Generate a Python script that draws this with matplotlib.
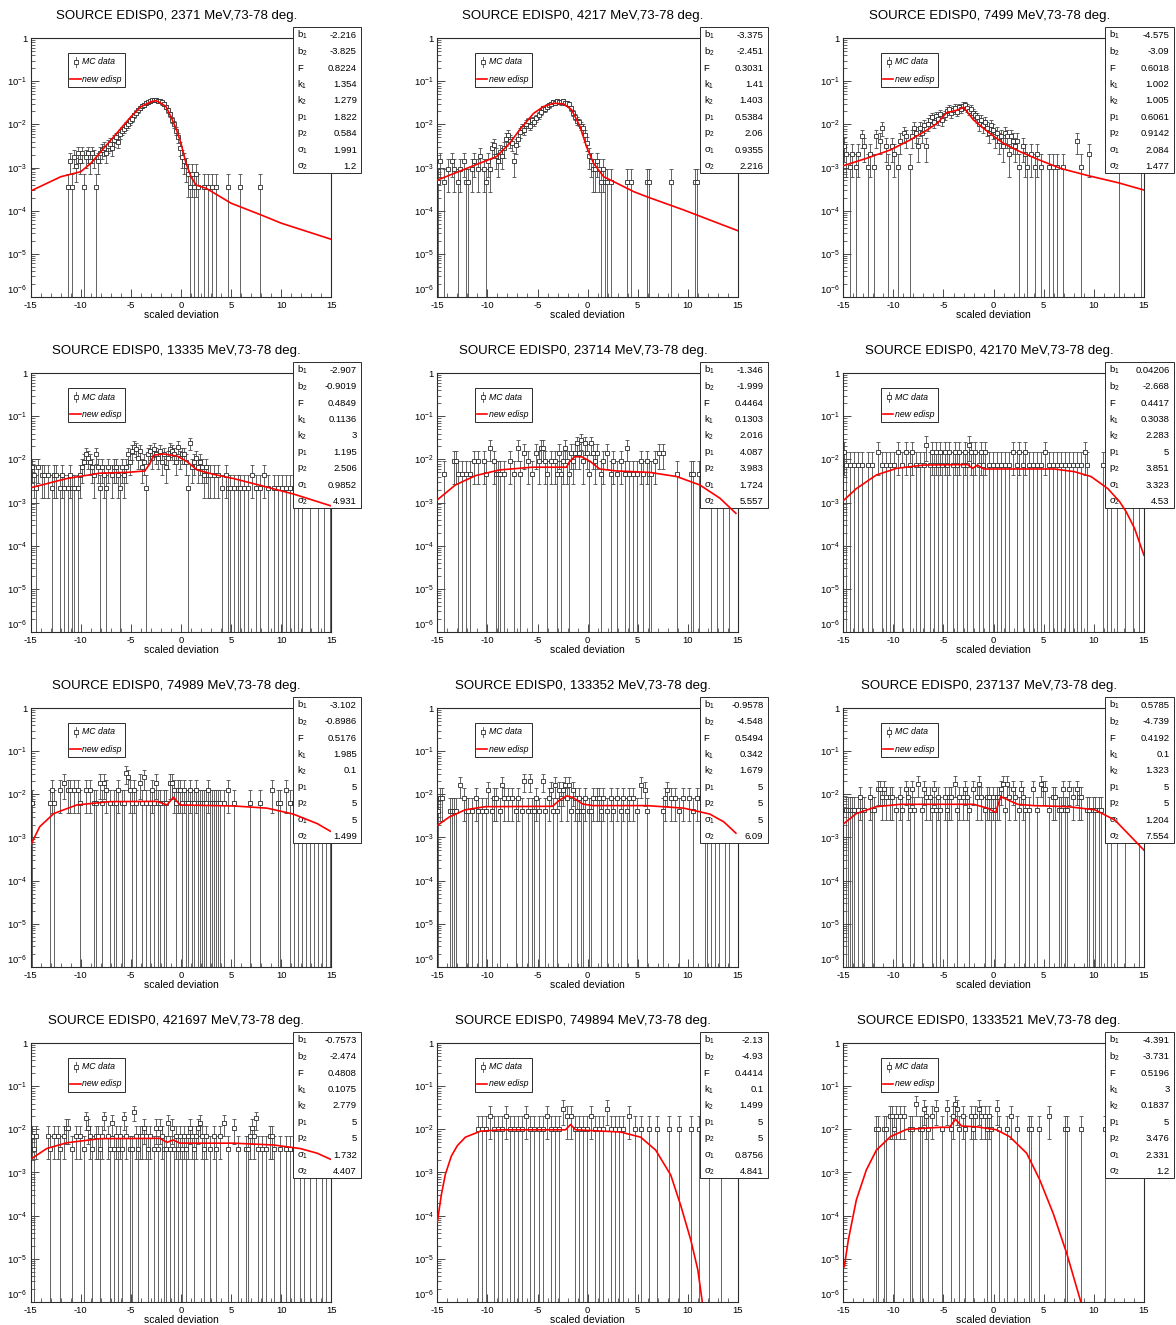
import numpy as np
import matplotlib
matplotlib.use("Agg")
import matplotlib.pyplot as plt
from matplotlib.patches import Rectangle
from matplotlib.ticker import FixedLocator, LogLocator, MultipleLocator, NullFormatter

plt.rcParams["font.family"] = ["Liberation Sans", "DejaVu Sans"]
plt.rcParams["mathtext.fontset"] = "custom"
plt.rcParams["mathtext.rm"] = "Liberation Sans"
plt.rcParams["mathtext.it"] = "Liberation Sans:italic"
plt.rcParams["axes.unicode_minus"] = False

# energies (MeV) of the 12 bins and the height of a single MC count in each
energies = [2371, 4217, 7499, 13335, 23714, 42170, 74989, 133352, 237137, 421697, 749894, 1333521]
units = [3.6e-4, 4.7e-4, 1.05e-3, 2.2e-3, 4.7e-3, 7.4e-3, 6.2e-3, 4.2e-3, 4.4e-3, 3.6e-3, 1.0e-2, 1.0e-2]

# MC data: (bin centre, counts)
p1_pts = [(-11.3, 1), (-11.1, 4), (-10.9, 1), (-10.7, 5), (-10.5, 3), (-10.3, 6), (-10.1, 4), (-9.9, 6),
          (-9.7, 1), (-9.5, 5), (-9.3, 6), (-9.1, 4), (-8.9, 6), (-8.7, 5), (-8.5, 1), (-8.3, 4), (-8.1, 6),
          (-7.9, 7), (-7.7, 8), (-7.5, 6), (-7.3, 9), (-7.1, 10), (-6.9, 8), (-6.7, 12), (-6.5, 14), (-6.3, 11),
          (-6.1, 17), (-5.9, 20), (-5.7, 22), (-5.5, 26), (-5.3, 28), (-5.1, 33), (-4.9, 38), (-4.7, 45),
          (-4.5, 52), (-4.3, 60), (-4.1, 68), (-3.9, 75), (-3.7, 80), (-3.5, 88), (-3.3, 92), (-3.1, 95),
          (-2.9, 100), (-2.7, 105), (-2.5, 102), (-2.3, 98), (-2.1, 96), (-1.9, 90), (-1.7, 82), (-1.5, 72),
          (-1.3, 60), (-1.1, 48), (-0.9, 36), (-0.7, 28), (-0.5, 20), (-0.3, 14), (-0.1, 8), (0.1, 5),
          (0.3, 4), (0.5, 3), (0.7, 2), (0.9, 1), (1.1, 2), (1.3, 1), (1.5, 2), (1.7, 1), (2.3, 1), (2.7, 1),
          (3.1, 1), (3.5, 1), (4.7, 1), (5.9, 1), (7.9, 1)]
p2_pts = [(-14.9, 1), (-14.7, 3), (-14.3, 1), (-13.9, 2), (-13.5, 3), (-13.3, 2), (-12.9, 1), (-12.7, 2),
          (-12.3, 3), (-12.1, 1), (-11.9, 1), (-11.5, 2), (-11.3, 3), (-10.9, 2), (-10.7, 4), (-10.3, 2),
          (-10.1, 1), (-9.9, 3), (-9.7, 2), (-9.5, 6), (-9.3, 7), (-9.1, 4), (-8.9, 3), (-8.7, 5), (-8.5, 4),
          (-8.3, 6), (-8.1, 10), (-7.9, 12), (-7.7, 9), (-7.5, 8), (-7.3, 3), (-7.1, 7), (-6.9, 10),
          (-6.7, 14), (-6.5, 18), (-6.3, 16), (-6.1, 22), (-5.9, 25), (-5.7, 20), (-5.5, 27), (-5.3, 24),
          (-5.1, 30), (-4.9, 35), (-4.7, 42), (-4.5, 50), (-4.3, 48), (-4.1, 55), (-3.9, 60), (-3.7, 64),
          (-3.5, 70), (-3.3, 68), (-3.1, 74), (-2.9, 72), (-2.7, 70), (-2.5, 74), (-2.3, 68), (-2.1, 66),
          (-1.9, 62), (-1.7, 50), (-1.5, 40), (-1.3, 32), (-1.1, 26), (-0.9, 24), (-0.7, 20), (-0.5, 18),
          (-0.3, 12), (-0.1, 8), (0.1, 4), (0.3, 3), (0.5, 2), (0.7, 2), (0.9, 3), (1.1, 2), (1.3, 1),
          (1.5, 2), (1.7, 1), (1.9, 1), (2.3, 1), (3.9, 1), (4.3, 1), (5.9, 1), (6.1, 1), (8.3, 1),
          (10.7, 1), (10.9, 1)]
p3_pts = [(-14.9, 3), (-14.7, 2), (-14.3, 1), (-14.1, 2), (-13.7, 1), (-13.5, 2), (-13.1, 5), (-12.9, 3),
          (-12.5, 1), (-12.3, 2), (-11.9, 1), (-11.7, 5), (-11.3, 4), (-11.1, 8), (-10.7, 3), (-10.5, 1),
          (-10.1, 3), (-9.9, 2), (-9.5, 1), (-9.3, 4), (-8.9, 6), (-8.7, 5), (-8.3, 1), (-8.1, 5), (-7.9, 8),
          (-7.7, 6), (-7.5, 3), (-7.3, 8), (-7.1, 6), (-6.9, 9), (-6.7, 3), (-6.5, 10), (-6.3, 12),
          (-6.1, 14), (-5.9, 11), (-5.7, 15), (-5.5, 13), (-5.3, 17), (-5.1, 12), (-4.9, 16), (-4.7, 20),
          (-4.5, 22), (-4.3, 18), (-4.1, 21), (-3.9, 23), (-3.7, 19), (-3.5, 24), (-3.3, 22), (-3.1, 26),
          (-2.9, 27), (-2.7, 23), (-2.5, 20), (-2.3, 22), (-2.1, 18), (-1.9, 16), (-1.7, 14), (-1.5, 10),
          (-1.3, 12), (-1.1, 9), (-0.9, 11), (-0.7, 8), (-0.5, 6), (-0.3, 9), (-0.1, 7), (0.1, 5), (0.3, 6),
          (0.5, 4), (0.7, 5), (0.9, 3), (1.1, 6), (1.3, 5), (1.5, 2), (1.7, 5), (1.9, 4), (2.1, 3), (2.3, 4),
          (2.5, 1), (2.9, 3), (3.1, 2), (3.3, 1), (3.7, 2), (4.1, 1), (4.3, 2), (4.7, 1), (5.5, 1), (5.9, 1),
          (6.3, 1), (6.9, 1), (8.3, 4), (8.7, 1), (9.5, 2), (12.5, 1), (14.7, 1)]
p4_pts = [(-14.9, 3), (-14.7, 2), (-14.5, 1), (-14.3, 3), (-13.9, 2), (-13.7, 2), (-13.3, 2), (-12.9, 1),
          (-12.7, 2), (-12.5, 2), (-12.1, 1), (-11.9, 2), (-11.7, 1), (-11.3, 1), (-11.1, 2), (-10.9, 1),
          (-10.7, 1), (-10.3, 1), (-10.1, 2), (-9.9, 3), (-9.7, 4), (-9.5, 6), (-9.3, 5), (-9.1, 4),
          (-8.9, 3), (-8.7, 2), (-8.5, 6), (-8.3, 3), (-8.1, 1), (-7.9, 3), (-7.7, 2), (-7.5, 1), (-7.3, 3),
          (-6.9, 2), (-6.7, 3), (-6.5, 3), (-6.3, 2), (-6.1, 1), (-5.9, 3), (-5.7, 2), (-5.5, 3), (-5.3, 6),
          (-5.1, 4), (-4.9, 7), (-4.7, 9), (-4.5, 8), (-4.3, 5), (-4.1, 7), (-3.9, 3), (-3.7, 4), (-3.5, 1),
          (-3.3, 6), (-3.1, 7), (-2.9, 5), (-2.7, 8), (-2.5, 6), (-2.3, 5), (-2.1, 7), (-1.9, 4), (-1.7, 6),
          (-1.5, 3), (-1.3, 5), (-1.1, 8), (-0.9, 7), (-0.7, 6), (-0.5, 4), (-0.3, 9), (-0.1, 5), (0.1, 6),
          (0.3, 6), (0.5, 4), (0.7, 1), (0.9, 11), (1.1, 3), (1.3, 4), (1.5, 5), (1.7, 3), (1.9, 4), (2.1, 3),
          (2.3, 2), (2.5, 3), (2.7, 2), (2.9, 2), (3.3, 2), (3.7, 2), (4.1, 1), (4.5, 2), (4.7, 1), (4.9, 1),
          (5.3, 1), (5.7, 1), (5.9, 1), (6.3, 1), (6.7, 1), (7.1, 2), (7.5, 1), (7.9, 1), (8.3, 2), (8.7, 1),
          (9.3, 1), (9.7, 1), (10.1, 1), (10.5, 1), (10.9, 1), (11.3, 1), (11.7, 1), (12.1, 1), (12.9, 1),
          (13.7, 1), (14.3, 1), (14.9, 1)]
p5_pts = [(-14.3, 1), (-13.3, 2), (-13.1, 2), (-12.9, 1), (-12.5, 1), (-12.1, 1), (-11.7, 1), (-11.3, 2),
          (-10.9, 2), (-10.3, 2), (-10.1, 1), (-9.7, 4), (-9.3, 2), (-9.1, 1), (-8.9, 1), (-8.7, 1),
          (-8.3, 1), (-7.7, 2), (-7.3, 1), (-6.9, 4), (-6.7, 1), (-6.3, 3), (-5.9, 2), (-5.5, 1), (-5.1, 3),
          (-4.9, 2), (-4.7, 4), (-4.5, 4), (-4.3, 2), (-4.1, 1), (-3.7, 2), (-3.3, 2), (-3.1, 1), (-2.9, 3),
          (-2.7, 1), (-2.5, 2), (-2.3, 4), (-2.1, 2), (-1.9, 1), (-1.7, 3), (-1.5, 2), (-1.3, 3), (-1.1, 5),
          (-0.9, 3), (-0.7, 6), (-0.5, 2), (-0.3, 5), (-0.1, 3), (0.1, 1), (0.3, 5), (0.5, 3), (0.7, 2),
          (0.9, 3), (1.3, 1), (1.5, 2), (1.9, 3), (2.3, 1), (2.5, 2), (2.9, 1), (3.3, 2), (3.7, 1), (3.9, 4),
          (4.1, 1), (4.5, 1), (4.9, 1), (5.3, 2), (5.5, 1), (5.9, 2), (6.1, 1), (6.3, 1), (6.7, 2), (7.1, 3),
          (7.5, 3), (8.9, 1), (10.3, 1), (10.5, 1), (11.1, 1), (11.5, 2), (12.3, 1), (12.9, 1), (13.5, 1),
          (14.1, 1)]
p6_pts = [(-14.9, 2), (-14.7, 1), (-14.3, 1), (-13.9, 1), (-13.5, 1), (-13.1, 1), (-12.5, 1), (-12.1, 1),
          (-11.5, 2), (-11.1, 1), (-10.7, 1), (-10.3, 1), (-9.9, 1), (-9.5, 2), (-9.1, 1), (-8.7, 2),
          (-8.3, 1), (-8.1, 2), (-7.7, 1), (-7.3, 1), (-6.9, 1), (-6.7, 3), (-6.3, 1), (-6.1, 2), (-5.9, 1),
          (-5.7, 2), (-5.5, 1), (-5.3, 2), (-5.1, 1), (-4.9, 2), (-4.7, 1), (-4.5, 2), (-4.1, 1), (-3.9, 2),
          (-3.7, 1), (-3.5, 2), (-3.1, 1), (-2.9, 2), (-2.7, 1), (-2.5, 3), (-2.3, 2), (-2.1, 1), (-1.9, 2),
          (-1.5, 1), (-1.3, 2), (-1.1, 1), (-0.9, 2), (-0.5, 1), (-0.1, 1), (0.3, 1), (0.7, 1), (1.1, 1),
          (1.5, 1), (1.9, 2), (2.3, 1), (2.5, 2), (2.9, 1), (3.1, 2), (3.5, 1), (3.9, 1), (4.3, 1), (4.7, 1),
          (5.1, 2), (5.5, 1), (5.9, 1), (6.3, 1), (6.7, 1), (7.1, 1), (7.5, 1), (7.9, 1), (8.3, 1), (8.7, 1),
          (9.1, 2), (9.3, 1), (10.9, 1), (11.3, 1), (11.7, 1), (12.3, 1), (13.1, 1), (13.9, 1), (14.5, 1)]
p7_pts = [(-14.9, 1), (-13.1, 1), (-12.9, 2), (-12.7, 1), (-12.1, 2), (-11.7, 3), (-11.3, 2), (-11.1, 2),
          (-10.7, 2), (-10.3, 2), (-10.1, 1), (-9.5, 2), (-9.1, 2), (-8.7, 1), (-8.5, 1), (-8.1, 3),
          (-7.9, 1), (-7.7, 3), (-7.5, 2), (-7.1, 1), (-6.7, 1), (-6.5, 1), (-6.3, 2), (-5.9, 1), (-5.7, 1),
          (-5.5, 5), (-5.3, 4), (-5.1, 2), (-4.9, 1), (-4.7, 2), (-4.5, 1), (-4.1, 3), (-3.9, 1), (-3.7, 4),
          (-3.5, 1), (-3.1, 1), (-2.9, 2), (-2.7, 1), (-2.5, 3), (-2.3, 1), (-2.1, 1), (-1.7, 1), (-1.5, 1),
          (-1.1, 3), (-0.9, 3), (-0.7, 2), (-0.5, 1), (-0.3, 2), (-0.1, 2), (0.1, 1), (0.3, 2), (0.5, 1),
          (0.7, 1), (0.9, 2), (1.1, 1), (1.3, 1), (1.5, 2), (1.7, 1), (1.9, 1), (2.1, 1), (2.3, 1), (2.5, 1),
          (2.7, 2), (2.9, 1), (3.1, 1), (3.3, 1), (3.5, 1), (3.7, 1), (3.9, 1), (4.3, 1), (4.7, 2), (5.3, 1),
          (6.9, 1), (7.9, 1), (9.1, 2), (9.7, 1), (9.9, 1), (10.5, 2), (10.9, 1), (11.3, 1), (11.7, 1),
          (12.1, 1), (12.5, 1), (12.9, 1), (13.3, 1), (13.7, 1), (14.1, 1), (14.5, 1), (14.9, 1)]
p8_pts = [(-14.9, 1), (-14.7, 2), (-14.5, 2), (-13.7, 1), (-13.5, 1), (-13.3, 1), (-13.1, 1), (-12.7, 4),
          (-12.3, 2), (-12.1, 1), (-11.9, 1), (-11.5, 1), (-11.1, 2), (-10.9, 1), (-10.5, 1), (-10.1, 1),
          (-9.9, 3), (-9.5, 1), (-9.3, 2), (-9.1, 2), (-8.7, 1), (-8.5, 4), (-8.3, 2), (-7.9, 2), (-7.5, 2),
          (-7.1, 1), (-6.9, 2), (-6.5, 1), (-6.3, 5), (-5.9, 1), (-5.7, 5), (-5.5, 1), (-5.3, 1), (-5.1, 2),
          (-4.9, 1), (-4.5, 5), (-4.3, 1), (-3.9, 2), (-3.7, 3), (-3.5, 1), (-3.3, 4), (-3.1, 1), (-2.9, 3),
          (-2.7, 2), (-2.5, 3), (-2.3, 4), (-2.1, 2), (-1.9, 4), (-1.7, 1), (-1.5, 3), (-1.3, 2), (-1.1, 1),
          (-0.9, 2), (-0.7, 1), (-0.5, 1), (-0.3, 2), (0.1, 1), (0.3, 1), (0.5, 2), (0.9, 2), (1.1, 2),
          (1.3, 1), (1.5, 2), (1.9, 1), (2.3, 2), (2.5, 1), (2.9, 2), (3.3, 1), (3.5, 2), (3.9, 1), (4.1, 2),
          (4.5, 2), (4.9, 1), (5.3, 4), (5.7, 3), (5.9, 1), (7.5, 1), (7.7, 2), (7.9, 3), (8.3, 2), (8.7, 2),
          (9.1, 1), (9.5, 2), (10.1, 2), (10.5, 1), (10.9, 2), (11.3, 2), (11.7, 1), (11.9, 1), (12.3, 1),
          (12.7, 1), (13.1, 1), (13.7, 1), (14.1, 1)]
p9_pts = [(-14.7, 1), (-14.5, 1), (-14.3, 1), (-14.1, 1), (-13.9, 1), (-13.5, 1), (-13.3, 2), (-13.1, 1),
          (-12.9, 1), (-12.3, 2), (-12.1, 1), (-11.9, 1), (-11.5, 3), (-11.3, 3), (-11.1, 2), (-10.9, 3),
          (-10.7, 2), (-10.3, 2), (-10.1, 2), (-9.7, 1), (-9.3, 2), (-9.1, 1), (-8.7, 3), (-8.5, 2),
          (-8.3, 1), (-8.1, 3), (-7.9, 1), (-7.5, 4), (-7.1, 1), (-6.9, 3), (-6.7, 2), (-6.3, 2), (-6.1, 1),
          (-5.9, 3), (-5.7, 1), (-5.5, 2), (-5.3, 1), (-4.9, 2), (-4.7, 1), (-4.5, 2), (-4.3, 2), (-3.9, 4),
          (-3.7, 1), (-3.5, 2), (-3.1, 2), (-2.9, 3), (-2.7, 2), (-2.5, 1), (-2.1, 3), (-1.7, 2), (-1.5, 4),
          (-1.3, 2), (-0.9, 1), (-0.7, 2), (-0.5, 2), (-0.3, 1), (-0.1, 2), (0.1, 1), (0.3, 2), (0.5, 2),
          (0.7, 3), (0.9, 4), (1.1, 1), (1.3, 4), (1.5, 2), (1.9, 3), (2.1, 2), (2.5, 1), (2.7, 3), (2.9, 2),
          (3.1, 1), (3.5, 1), (3.9, 3), (4.3, 1), (4.7, 4), (4.9, 3), (5.1, 3), (5.5, 1), (5.9, 2), (6.1, 2),
          (6.5, 1), (6.7, 1), (6.9, 3), (7.1, 1), (7.3, 1), (7.5, 3), (7.9, 2), (8.3, 3), (8.5, 2), (8.7, 2),
          (9.3, 1), (9.5, 1), (9.9, 1), (10.1, 1), (10.5, 1), (10.7, 1), (11.3, 1), (11.7, 1), (12.3, 1),
          (13.1, 1), (14.5, 1)]
p10_pts = [(-14.9, 2), (-14.7, 1), (-14.5, 2), (-13.3, 2), (-13.1, 1), (-12.7, 2), (-12.3, 2), (-12.1, 1),
           (-11.7, 2), (-11.5, 3), (-11.3, 3), (-10.9, 1), (-10.5, 2), (-10.1, 2), (-9.7, 1), (-9.5, 5),
           (-9.3, 3), (-9.1, 2), (-8.9, 1), (-8.5, 2), (-8.3, 2), (-8.1, 1), (-7.9, 2), (-7.7, 5), (-7.3, 2),
           (-7.1, 1), (-6.9, 4), (-6.7, 1), (-6.5, 2), (-6.3, 1), (-6.1, 2), (-5.9, 1), (-5.7, 5), (-5.5, 2),
           (-5.1, 1), (-4.9, 1), (-4.7, 7), (-4.5, 2), (-4.3, 1), (-4.1, 2), (-3.9, 2), (-3.7, 3), (-3.5, 2),
           (-3.3, 1), (-3.1, 2), (-2.7, 1), (-2.5, 3), (-2.3, 1), (-2.1, 3), (-1.9, 2), (-1.7, 1), (-1.5, 1),
           (-1.3, 4), (-1.1, 1), (-0.9, 3), (-0.7, 1), (-0.5, 2), (-0.3, 1), (-0.1, 2), (0.1, 1), (0.3, 2),
           (0.5, 1), (0.7, 2), (0.9, 3), (1.1, 2), (1.3, 1), (1.5, 2), (1.7, 3), (1.9, 4), (2.1, 2), (2.3, 1),
           (2.5, 2), (2.9, 1), (3.3, 2), (3.5, 1), (3.9, 2), (4.3, 4), (4.7, 1), (5.3, 3), (5.7, 1), (6.5, 1),
           (6.7, 1), (6.9, 2), (7.1, 3), (7.3, 2), (7.5, 5), (7.7, 1), (8.1, 1), (8.5, 1), (8.9, 2), (9.1, 2),
           (9.3, 1), (9.9, 1), (10.5, 1), (10.9, 1), (11.3, 1), (11.9, 1), (12.3, 1), (12.9, 1), (13.5, 1),
           (14.1, 1), (14.5, 1)]
p11_pts = [(-10.9, 1), (-10.5, 1), (-10.1, 1), (-9.7, 2), (-9.3, 1), (-8.9, 1), (-8.5, 1), (-8.1, 2),
           (-7.7, 1), (-7.3, 1), (-6.9, 1), (-6.5, 1), (-6.1, 2), (-5.7, 1), (-5.3, 1), (-4.9, 1), (-4.5, 1),
           (-4.1, 2), (-3.7, 1), (-3.3, 1), (-2.9, 1), (-2.5, 3), (-2.1, 2), (-1.7, 2), (-1.3, 1), (-0.9, 1),
           (-0.5, 1), (-0.1, 1), (0.3, 2), (0.7, 1), (1.1, 1), (1.5, 1), (1.9, 3), (2.3, 1), (2.7, 1),
           (3.1, 1), (3.5, 1), (4.1, 2), (4.7, 1), (5.3, 1), (6.1, 1), (6.9, 1), (8.1, 1), (9.1, 1),
           (10.3, 1), (11.1, 1), (12.1, 1), (13.3, 1)]
p12_pts = [(-11.7, 1), (-11.5, 1), (-10.9, 1), (-10.7, 1), (-10.3, 2), (-10.1, 2), (-9.9, 1), (-9.7, 2),
           (-9.3, 2), (-8.9, 2), (-8.3, 1), (-8.1, 1), (-7.7, 4), (-7.3, 1), (-7.1, 1), (-6.9, 3), (-6.7, 2),
           (-6.5, 1), (-6.1, 2), (-5.7, 3), (-5.1, 1), (-4.7, 3), (-4.3, 1), (-4.1, 2), (-3.9, 4), (-3.7, 3),
           (-3.5, 1), (-3.1, 2), (-2.9, 1), (-2.3, 2), (-2.1, 1), (-1.9, 2), (-1.5, 3), (-1.3, 2), (-0.9, 2),
           (-0.7, 1), (-0.5, 2), (-0.3, 1), (0.3, 3), (0.5, 1), (1.3, 1), (1.7, 2), (2.3, 1), (3.5, 1),
           (3.7, 1), (4.5, 1), (5.5, 2), (7.1, 1), (7.3, 1), (8.7, 1), (11.1, 1)]

# "new edisp" fit curves as (x, y)
p1_fit = [(-15, 2.85e-4), (-12, 6.1e-4), (-10, 8.0e-4), (-9, 1.25e-3), (-8, 2.33e-3), (-7, 4.35e-3),
          (-6, 8.1e-3), (-5, 1.51e-2), (-4, 2.58e-2), (-3, 3.37e-2), (-2.5, 3.56e-2), (-2, 3.1e-2),
          (-1.5, 2.6e-2), (-1, 1.5e-2), (-0.5, 8.1e-3), (0, 3.65e-3), (0.5, 1.25e-3), (1, 6.1e-4),
          (1.5, 3.9e-4), (2.5, 3.3e-4), (5, 1.48e-4), (8, 7.9e-5), (10, 5.1e-5), (15, 2.15e-5)]
p2_fit = [(-15, 5.1e-4), (-10.8, 1.25e-3), (-9.1, 1.78e-3), (-7.8, 3.6e-3), (-6.8, 7.4e-3), (-5.4, 1.8e-2),
          (-4.4, 2.6e-2), (-3.4, 3.1e-2), (-2.4, 3.0e-2), (-1.6, 2.2e-2), (-0.75, 8.9e-3), (-0.1, 3.0e-3),
          (0.6, 1.25e-3), (1.6, 6.1e-4), (2.6, 4.7e-4), (4.6, 2.75e-4), (5.9, 2.1e-4), (9.6, 1.03e-4),
          (15, 3.4e-5)]
p3_fit = [(-15, 1.1e-3), (-12.7, 1.63e-3), (-10.3, 2.56e-3), (-8.3, 4.4e-3), (-6.65, 7.4e-3),
          (-5.6, 1.07e-2), (-4.7, 1.87e-2), (-3.6, 2.16e-2), (-3.0, 2.5e-2), (-2.0, 1.27e-2),
          (-0.6, 6.8e-3), (1.0, 3.6e-3), (2.7, 2.3e-3), (4.4, 1.55e-3), (6.7, 9.5e-4), (9.4, 6.5e-4),
          (12.4, 4.45e-4), (15, 3.0e-4)]
p4_fit = [(-15, 2.2e-3), (-11.4, 3.6e-3), (-8.1, 4.8e-3), (-5.4, 5.0e-3), (-3.6, 5.4e-3), (-3.1, 8.1e-3),
          (-2.7, 1.26e-2), (-1.75, 1.34e-2), (-0.4, 1.2e-2), (0.6, 8.9e-3), (1.6, 5.7e-3), (3.25, 4.5e-3),
          (5.25, 3.6e-3), (7.9, 2.5e-3), (11.2, 1.58e-3), (15, 8.3e-4)]
p5_fit = [(-15, 1.15e-3), (-13.2, 2.55e-3), (-11.2, 4.2e-3), (-8.8, 5.7e-3), (-5.5, 6.6e-3), (-2.1, 6.6e-3),
          (-1.8, 8.9e-3), (-1.3, 1.15e-2), (-0.6, 1.15e-2), (0.2, 9.2e-3), (1.2, 6.0e-3), (2.9, 5.4e-3),
          (6.2, 5.0e-3), (8.9, 4.0e-3), (11.2, 2.55e-3), (13.2, 1.26e-3), (14.8, 5.6e-4)]
p6_fit = [(-15, 1.1e-3), (-13.7, 2.1e-3), (-11.7, 4.35e-3), (-9.7, 6.2e-3), (-7.0, 7.4e-3), (-2.6, 7.6e-3),
          (-2.1, 6.2e-3), (-1.6, 7.4e-3), (-1.0, 6.0e-3), (6.05, 6.0e-3), (8.06, 5.2e-3), (9.73, 4.0e-3),
          (11.4, 2.1e-3), (12.57, 1.05e-3), (13.23, 6.1e-4), (14.07, 2.5e-4), (15, 6.0e-5)]
p7_fit = [(-15, 6.7e-4), (-14.1, 1.78e-3), (-12.7, 3.6e-3), (-10.4, 5.7e-3), (-7.1, 6.8e-3), (-2.4, 6.9e-3),
          (-1.4, 5.7e-3), (-0.75, 8.6e-3), (-0.1, 5.7e-3), (5.25, 5.4e-3), (8.6, 4.8e-3), (11.2, 3.5e-3),
          (13.6, 2.1e-3), (14.9, 1.4e-3)]
p8_fit = [(-15, 1.9e-3), (-13.8, 3.0e-3), (-12.2, 4.4e-3), (-10.2, 5.2e-3), (-3.5, 5.3e-3), (-2.8, 7.4e-3),
          (-2.1, 9.2e-3), (-1.5, 8.6e-3), (-0.5, 6.0e-3), (0.5, 5.5e-3), (5.9, 5.5e-3), (9.6, 4.8e-3),
          (12.2, 3.5e-3), (13.6, 2.3e-3), (14.8, 1.26e-3)]
p9_fit = [(-15, 2.06e-3), (-13.7, 3.6e-3), (-11.7, 5.2e-3), (-9.3, 5.9e-3), (-2.0, 5.9e-3), (-0.6, 4.8e-3),
          (0.2, 3.8e-3), (0.7, 8.9e-3), (2.4, 5.9e-3), (4.0, 5.5e-3), (7.4, 5.2e-3), (10.1, 4.4e-3),
          (12.1, 2.55e-3), (13.7, 1.05e-3), (15, 5.1e-4)]
p10_fit = [(-15, 2.04e-3), (-13.4, 3.6e-3), (-11.4, 4.9e-3), (-8.1, 6.1e-3), (-2.1, 6.2e-3), (-1.4, 5.0e-3),
           (-0.8, 5.7e-3), (-0.1, 4.8e-3), (5.25, 4.8e-3), (9.25, 4.35e-3), (11.9, 3.6e-3), (13.6, 2.8e-3),
           (14.9, 2.04e-3)]
p11_fit = [(-15, 7.0e-5), (-14.6, 3.0e-4), (-14.2, 9.0e-4), (-13.6, 2.4e-3), (-13.0, 4.2e-3), (-12.2, 6.6e-3),
           (-10.7, 9.1e-3), (-8.7, 9.8e-3), (-2.2, 9.8e-3), (-1.7, 1.3e-2), (-1.2, 9.8e-3), (3.3, 8.7e-3),
           (5.3, 6.6e-3), (6.8, 3.3e-3), (8.3, 8.7e-4), (9.3, 1.7e-4), (10.3, 2.7e-5), (11.0, 5.5e-6),
           (11.5, 8.0e-7)]
p12_fit = [(-14.9, 6.5e-6), (-14.5, 2.7e-5), (-13.7, 2.3e-4), (-12.7, 1.15e-3), (-11.7, 3.3e-3),
           (-10.3, 6.8e-3), (-8.7, 1.0e-2), (-5.4, 1.12e-2), (-4.4, 1.12e-2), (-3.8, 1.72e-2), (-3.2, 1.2e-2),
           (-1.7, 1.15e-2), (0.3, 9.8e-3), (1.6, 6.8e-3), (3.3, 2.8e-3), (4.6, 6.8e-4), (5.95, 1.12e-4),
           (7.3, 1.32e-5), (8.7, 1.0e-6), (8.9, 7.0e-7)]

# fit parameters shown in the stat boxes
par_names = ["b$_1$", "b$_2$", "F", "k$_1$", "k$_2$", "p$_1$", "p$_2$", "σ$_1$", "σ$_2$"]
p1_par = [-2.216, -3.825, 0.8224, 1.354, 1.279, 1.822, 0.584, 1.991, 1.2]
p2_par = [-3.375, -2.451, 0.3031, 1.41, 1.403, 0.5384, 2.06, 0.9355, 2.216]
p3_par = [-4.575, -3.09, 0.6018, 1.002, 1.005, 0.6061, 0.9142, 2.084, 1.477]
p4_par = [-2.907, -0.9019, 0.4849, 0.1136, 3, 1.195, 2.506, 0.9852, 4.931]
p5_par = [-1.346, -1.999, 0.4464, 0.1303, 2.016, 4.087, 3.983, 1.724, 5.557]
p6_par = [0.04206, -2.668, 0.4417, 0.3038, 2.283, 5, 3.851, 3.323, 4.53]
p7_par = [-3.102, -0.8986, 0.5176, 1.985, 0.1, 5, 5, 5, 1.499]
p8_par = [-0.9578, -4.548, 0.5494, 0.342, 1.679, 5, 5, 5, 6.09]
p9_par = [0.5785, -4.739, 0.4192, 0.1, 1.323, 5, 5, 1.204, 7.554]
p10_par = [-0.7573, -2.474, 0.4808, 0.1075, 2.779, 5, 5, 1.732, 4.407]
p11_par = [-2.13, -4.93, 0.4414, 0.1, 1.499, 5, 5, 0.8756, 4.841]
p12_par = [-4.391, -3.731, 0.5196, 3, 0.1837, 5, 3.476, 2.331, 1.2]

pts_all = [p1_pts, p2_pts, p3_pts, p4_pts, p5_pts, p6_pts, p7_pts, p8_pts, p9_pts, p10_pts, p11_pts, p12_pts]
fit_all = [p1_fit, p2_fit, p3_fit, p4_fit, p5_fit, p6_fit, p7_fit, p8_fit, p9_fit, p10_fit, p11_fit, p12_fit]
par_all = [p1_par, p2_par, p3_par, p4_par, p5_par, p6_par, p7_par, p8_par, p9_par, p10_par, p11_par, p12_par]

x_ticks = [-15, -10, -5, 0, 5, 10, 15]
y_ticks = [1e-6, 1e-5, 1e-4, 1e-3, 1e-2, 1e-1, 1]
y_labels = [r"$\mathregular{10^{-%d}}$" % k for k in range(6, 0, -1)] + ["1"]

# layout in pixels
FW, FH = 1176, 1325
col_left = [30.7, 437.3, 843.3]
row_top0, row_step = 38.3, 335
W, H = 300.6, 258.4
dark = "#2b2b2b"
bar_col = "#4a4a4a"

fig = plt.figure(figsize=(FW / 100, FH / 100), dpi=100)

for k in range(12):
    r, c = divmod(k, 3)
    left = col_left[c]
    top = row_top0 + row_step * r
    ax = fig.add_axes([left / FW, 1 - (top + H) / FH, W / FW, H / FH])
    ax.set_xlim(-15, 15)
    ax.set_yscale("log")
    ax.set_ylim(1e-6, 1)

    # MC data with poisson errors
    xs = np.array([p[0] for p in pts_all[k]])
    ns = np.array([p[1] for p in pts_all[k]], dtype=float)
    y = ns * units[k]
    err = np.sqrt(ns) * units[k]
    lo = np.where(ns > 1, y - err, 1e-9)
    ax.errorbar(xs, y, yerr=[y - lo, err], fmt="s", ms=3.3, mfc="white", mec=dark, mew=0.6,
                ecolor=bar_col, elinewidth=0.6, capsize=1.3, capthick=0.6, zorder=2)

    # fit curve (drawn over the stat box, like the original)
    fx = [p[0] for p in fit_all[k]]
    fy = [p[1] for p in fit_all[k]]
    ax.plot(fx, fy, color="red", lw=1.2, zorder=6)

    # axes styling
    for s in ax.spines.values():
        s.set_linewidth(0.8)
        s.set_color(dark)
    ax.set_xticks(x_ticks)
    ax.set_xticklabels([str(v) for v in x_ticks])
    ax.xaxis.set_minor_locator(MultipleLocator(1))
    ax.yaxis.set_major_locator(FixedLocator(y_ticks))
    ax.set_yticklabels(y_labels)
    ax.yaxis.set_minor_locator(LogLocator(base=10, subs=np.arange(2, 10), numticks=20))
    ax.yaxis.set_minor_formatter(NullFormatter())
    ax.tick_params(which="major", direction="in", length=5.8, width=0.6, color=dark,
                   labelsize=6.8, top=False, right=False)
    ax.tick_params(axis="x", which="major", pad=3.2)
    ax.tick_params(axis="y", which="major", pad=2.5)
    ax.tick_params(which="minor", direction="in", length=2.9, width=0.5, color=dark,
                   top=False, right=False)
    # lowest y label sits just above the corner so it clears the "-15"
    ax.get_yticklabels()[0].set_verticalalignment("bottom")

    ax.text(0.5, -18.5 / H, "scaled deviation", transform=ax.transAxes,
            ha="center", va="center", fontsize=7.5)
    fig.text((left + W / 2 - 4.5) / FW, 1 - (16 + row_step * r) / FH,
             "SOURCE EDISP0, %d MeV,73-78 deg." % energies[k],
             ha="center", va="center", fontsize=9.5)

    # stat box
    bl, br = 1 - 38.4 / W, 1 + 30.0 / W
    bt, bb = 1 + 11.5 / H, 1 - 134.5 / H
    ax.add_patch(Rectangle((bl, bb), br - bl, bt - bb, transform=ax.transAxes, clip_on=False,
                           fc="white", ec=dark, lw=0.7, zorder=4))
    for i, (nm, v) in enumerate(zip(par_names, par_all[k])):
        yy = bt - (8.3 + 16.46 * i) / H
        ax.text(bl + 4 / W, yy, nm, transform=ax.transAxes, ha="left", va="center",
                fontsize=6.8, zorder=5, clip_on=False)
        ax.text(br - 4.5 / W, yy, "%.4g" % v, transform=ax.transAxes, ha="right", va="center",
                fontsize=6.8, zorder=5, clip_on=False)

    # legend
    lx0, lx1 = 37.6 / W, 94.3 / W
    ly0, ly1 = 1 - 49 / H, 1 - 15 / H
    ax.add_patch(Rectangle((lx0, ly0), lx1 - lx0, ly1 - ly0, transform=ax.transAxes,
                           fc="white", ec=dark, lw=0.7, zorder=4))
    y_a = 1 - 23.7 / H
    y_b = 1 - 40.7 / H
    ax.plot([45.3 / W, 45.3 / W], [y_a - 5 / H, y_a + 5 / H], transform=ax.transAxes,
            color=bar_col, lw=0.6, zorder=5)
    ax.plot([45.3 / W], [y_a], "s", ms=3.3, mfc="white", mec=dark, mew=0.6,
            transform=ax.transAxes, zorder=5)
    ax.plot([39.3 / W, 50.0 / W], [y_b, y_b], color="red", lw=1.2, transform=ax.transAxes, zorder=5)
    ax.text(51.6 / W, y_a, "MC data", transform=ax.transAxes, ha="left", va="center",
            fontsize=6.3, style="italic", zorder=5)
    ax.text(51.6 / W, y_b, "new edisp", transform=ax.transAxes, ha="left", va="center",
            fontsize=6.3, style="italic", zorder=5)

fig.savefig("out.png", dpi=100)
